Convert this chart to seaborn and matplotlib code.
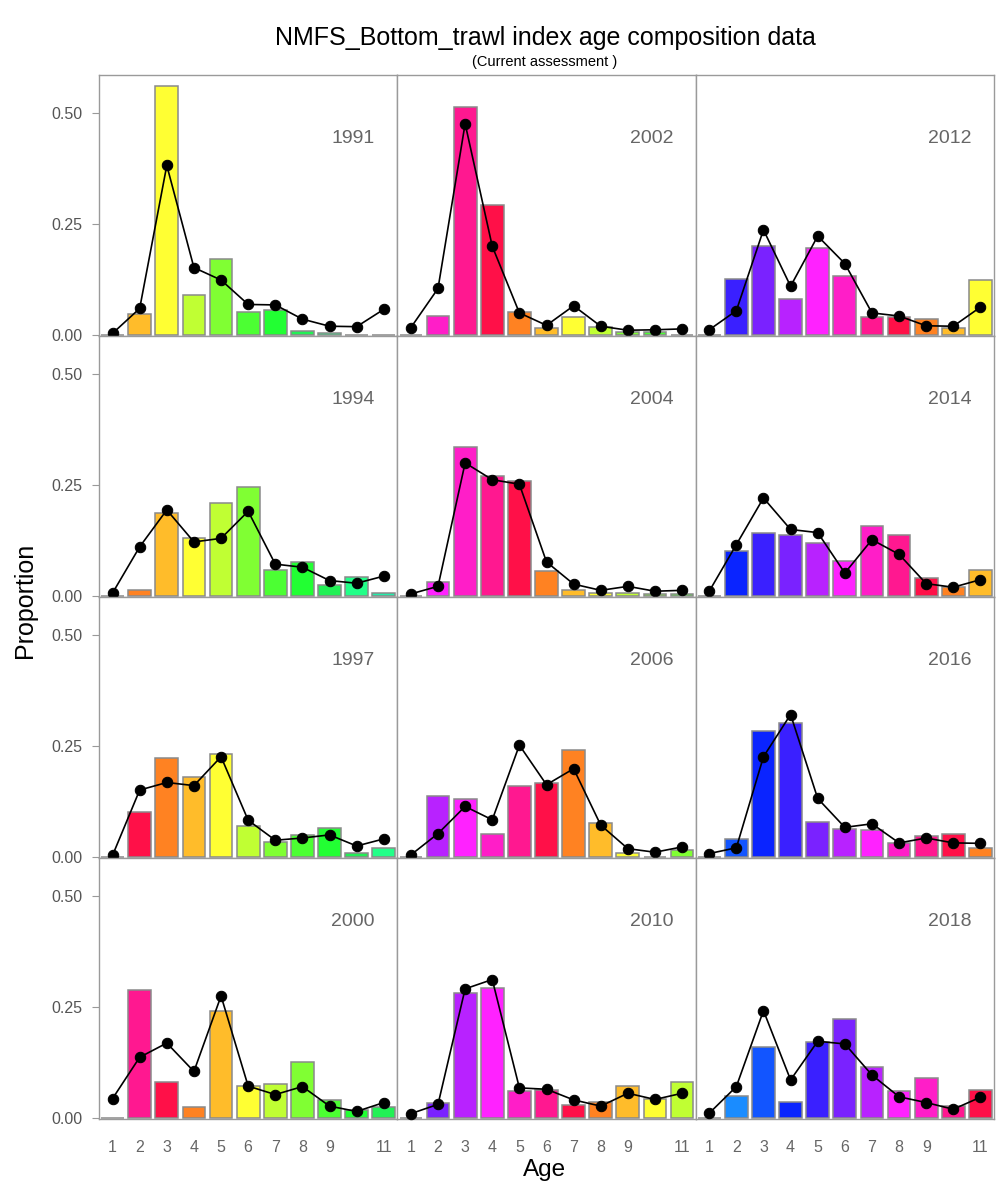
import numpy as np
import pandas as pd
import matplotlib
matplotlib.use("Agg")
import matplotlib.pyplot as plt
import seaborn as sns

# ---------------- data ----------------
years = [1991, 1994, 1997, 2000, 2002, 2004, 2006, 2010, 2012, 2014, 2016, 2018]
ages = [1, 2, 3, 4, 5, 6, 7, 8, 9, 10, 11]
age_tick_labels = ["1", "2", "3", "4", "5", "6", "7", "8", "9", "", "11"]

obs_1991 = [0.000, 0.047, 0.561, 0.090, 0.172, 0.053, 0.057, 0.009, 0.004, 0.001, 0.000]
exp_1991 = [0.004, 0.060, 0.382, 0.152, 0.124, 0.069, 0.068, 0.036, 0.020, 0.019, 0.058]
obs_1994 = [0.000, 0.014, 0.188, 0.130, 0.210, 0.245, 0.058, 0.077, 0.025, 0.043, 0.007]
exp_1994 = [0.007, 0.111, 0.194, 0.122, 0.130, 0.191, 0.072, 0.065, 0.035, 0.029, 0.045]
obs_1997 = [0.000, 0.102, 0.223, 0.180, 0.232, 0.071, 0.035, 0.050, 0.066, 0.009, 0.020]
exp_1997 = [0.004, 0.151, 0.168, 0.161, 0.226, 0.083, 0.038, 0.043, 0.050, 0.025, 0.041]
obs_2000 = [0.000, 0.288, 0.082, 0.026, 0.242, 0.073, 0.076, 0.127, 0.040, 0.018, 0.024]
exp_2000 = [0.044, 0.137, 0.169, 0.105, 0.275, 0.072, 0.053, 0.071, 0.027, 0.015, 0.035]
obs_2002 = [0.000, 0.042, 0.514, 0.292, 0.052, 0.017, 0.041, 0.019, 0.006, 0.006, 0.001]
exp_2002 = [0.017, 0.105, 0.476, 0.200, 0.050, 0.022, 0.066, 0.020, 0.011, 0.012, 0.014]
obs_2004 = [0.000, 0.031, 0.336, 0.271, 0.260, 0.056, 0.013, 0.007, 0.008, 0.005, 0.005]
exp_2004 = [0.005, 0.022, 0.300, 0.262, 0.252, 0.077, 0.027, 0.013, 0.022, 0.011, 0.013]
obs_2006 = [0.000, 0.137, 0.131, 0.052, 0.159, 0.166, 0.242, 0.077, 0.009, 0.000, 0.016]
exp_2006 = [0.005, 0.053, 0.114, 0.084, 0.252, 0.163, 0.199, 0.072, 0.019, 0.011, 0.023]
obs_2010 = [0.000, 0.033, 0.282, 0.293, 0.060, 0.063, 0.029, 0.036, 0.072, 0.044, 0.081]
exp_2010 = [0.010, 0.031, 0.291, 0.312, 0.068, 0.065, 0.041, 0.027, 0.056, 0.042, 0.056]
obs_2012 = [0.000, 0.126, 0.200, 0.081, 0.195, 0.134, 0.041, 0.041, 0.036, 0.017, 0.124]
exp_2012 = [0.012, 0.055, 0.237, 0.110, 0.223, 0.161, 0.050, 0.043, 0.021, 0.020, 0.063]
obs_2014 = [0.000, 0.101, 0.143, 0.138, 0.120, 0.079, 0.158, 0.138, 0.040, 0.021, 0.058]
exp_2014 = [0.011, 0.116, 0.221, 0.150, 0.143, 0.052, 0.127, 0.094, 0.028, 0.020, 0.037]
obs_2016 = [0.000, 0.041, 0.283, 0.303, 0.080, 0.063, 0.062, 0.032, 0.048, 0.052, 0.020]
exp_2016 = [0.008, 0.021, 0.226, 0.321, 0.132, 0.067, 0.075, 0.032, 0.043, 0.032, 0.031]
obs_2018 = [0.000, 0.050, 0.161, 0.036, 0.171, 0.224, 0.116, 0.061, 0.091, 0.027, 0.063]
exp_2018 = [0.011, 0.071, 0.242, 0.086, 0.173, 0.167, 0.097, 0.048, 0.035, 0.020, 0.047]

obs_series = [obs_1991, obs_1994, obs_1997, obs_2000, obs_2002, obs_2004,
              obs_2006, obs_2010, obs_2012, obs_2014, obs_2016, obs_2018]
exp_series = [exp_1991, exp_1994, exp_1997, exp_2000, exp_2002, exp_2004,
              exp_2006, exp_2010, exp_2012, exp_2014, exp_2016, exp_2018]

# cohort colour cycle (index = age - panel index + 9)
cohort_colors = ["#1A8CFF", "#1255FF", "#0A24FF", "#3A20FF", "#7A22FF", "#B822FF",
                 "#FF22FF", "#FF1EC8", "#FF1890", "#FF1048", "#FF8222", "#FFBC2A",
                 "#FFFF33", "#C0FF33", "#80FF33", "#4CFF33", "#22FF33", "#22F055",
                 "#22FF88", "#22EEAA", "#22DDBB"]

# ---------------- plot ----------------
sns.set_theme(style="white")
plt.rcParams['font.family'] = ['Liberation Sans', 'DejaVu Sans']

W, H = 998, 1182
fig, axes = plt.subplots(4, 3, figsize=(W / 100, H / 100), dpi=100, sharex=True, sharey=True)
fig.subplots_adjust(left=99 / W, right=994 / W, top=1 - 75 / H, bottom=1 - 1119 / H,
                    wspace=0, hspace=0)

for i, yr in enumerate(years):
    ax = axes[i % 4, i // 4]
    df = pd.DataFrame({"age": ages, "obs": obs_series[i], "exp": exp_series[i]})
    df["cohort"] = [str(a) for a in ages]
    pal = {str(a): cohort_colors[a - i + 9] for a in ages}
    sns.barplot(data=df, x="age", y="obs", hue="cohort", palette=pal, native_scale=True,
                width=0.84, edgecolor="#8a8a8a", linewidth=1.1, saturation=1,
                legend=False, ax=ax, errorbar=None)
    sns.lineplot(data=df, x="age", y="exp", color="black", marker="o", markersize=7.5,
                 markeredgecolor="black", linewidth=1.2, ax=ax, legend=False, sort=False)
    for ln in ax.lines:
        ln.set_clip_on(False)
        ln.set_zorder(5)
    ax.set_xlim(0.5, 11.5)
    ax.set_ylim(-0.002, 0.5856)
    ax.set_xlabel("")
    ax.set_ylabel("")
    ax.set_yticks([0.0, 0.25, 0.5])
    ax.set_yticklabels(["0.00", "0.25", "0.50"])
    ax.set_xticks(ages)
    ax.set_xticklabels(age_tick_labels)
    for sp in ax.spines.values():
        sp.set_color("#9a9a9a")
        sp.set_linewidth(1.0)
    ax.tick_params(axis="y", left=(i // 4 == 0), length=5, width=0.8, color="#9a9a9a",
                   labelcolor="#555555", labelsize=11.5, pad=7)
    ax.tick_params(axis="x", bottom=False, labelcolor="#666666", labelsize=11.5, pad=9)
    ax.text(0.925, 0.755, str(yr), transform=ax.transAxes, ha="right", va="center",
            color="#666666", fontsize=14)
    ax.grid(False)

fig.text(545 / W, 1 - 38 / H, "NMFS_Bottom_trawl index age composition data",
         ha="center", va="center", fontsize=18, color="black")
fig.text(545 / W, 1 - 62 / H, "(Current assessment )", ha="center", va="center",
         fontsize=10.5, color="black")
fig.text(25 / W, 1 - 600 / H, "Proportion", ha="center", va="center", rotation=90,
         fontsize=18, color="black")
fig.text(545 / W, 1 - 1170 / H, "Age", ha="center", va="center", fontsize=17.5, color="black")

fig.savefig("out.png", dpi=100)
